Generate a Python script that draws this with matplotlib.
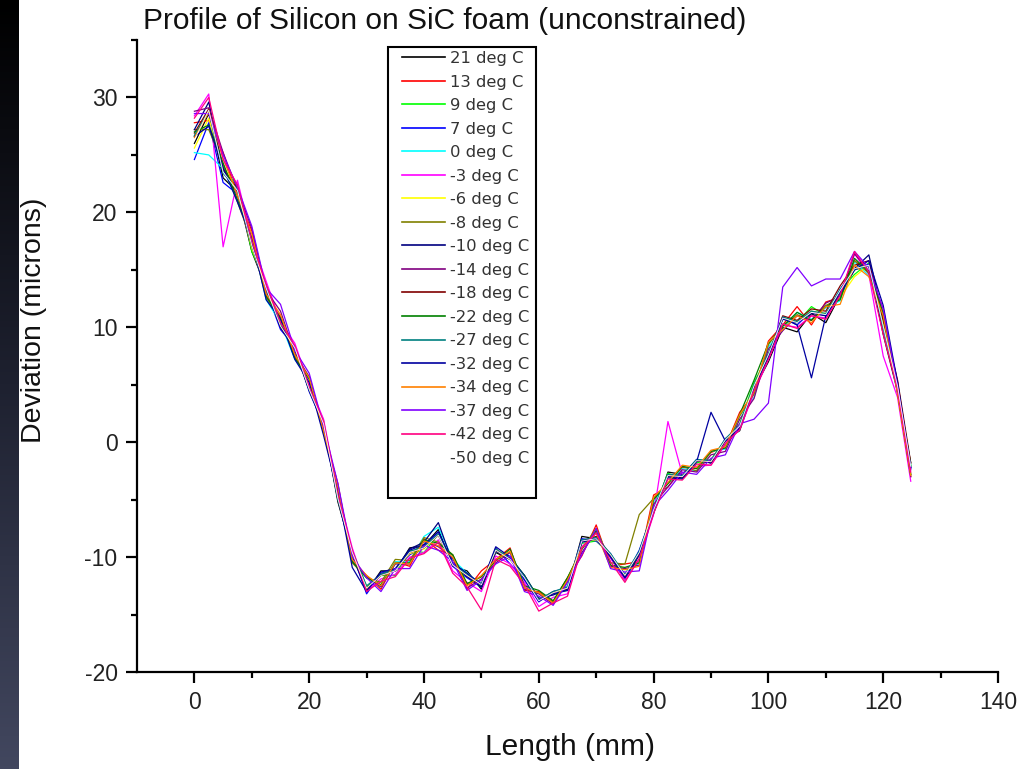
import matplotlib

matplotlib.use("Agg")
import matplotlib.pyplot as plt
import numpy as np
from matplotlib import font_manager
from matplotlib.lines import Line2D
from matplotlib.patches import Rectangle

# sample positions along the scan (mm)
LENGTH = [0, 2.5, 5, 7.5, 10, 12.5, 15, 17.5, 20, 22.5,
          25, 27.5, 30, 32.5, 35, 37.5, 40, 42.5, 45, 47.5,
          50, 52.5, 55, 57.5, 60, 62.5, 65, 67.5, 70, 72.5,
          75, 77.5, 80, 82.5, 85, 87.5, 90, 92.5, 95, 97.5,
          100, 102.5, 105, 107.5, 110, 112.5, 115, 117.5, 120, 122.5, 124.8]

# deviation (microns), one list per temperature
T21 = [26.0, 28.6, 23.0, 21.8, 16.6, 13.4, 10.0, 8.2, 4.6, 1.6,
       -5.2, -9.6, -13.0, -11.2, -11.2, -9.2, -9.0, -7.6, -10.8, -11.2,
       -12.8, -9.6, -10.2, -11.6, -13.8, -13.0, -12.8, -8.2, -8.4, -10.0,
       -12.0, -9.8, -6.2, -2.6, -2.8, -1.6, -1.8, 0.2, 1.0, 4.6,
       7.0, 10.0, 9.6, 11.2, 10.4, 12.8, 15.0, 15.4, 9.4, 4.4, -1.8]
T13 = [27.8, 28.0, 25.2, 21.4, 18.4, 12.8, 10.9, 7.4, 5.6, 0.8,
       -3.6, -10.4, -11.6, -12.8, -10.4, -10.8, -8.4, -9.4, -9.8, -12.8,
       -11.2, -10.2, -9.2, -12.9, -13.0, -13.9, -11.8, -9.9, -7.2, -10.8,
       -10.6, -10.4, -4.6, -3.9, -2.2, -2.3, -0.9, -0.4, 2.6, 4.2,
       8.8, 10.2, 11.8, 10.2, 12.2, 12.6, 15.8, 14.8, 11.6, 4.6, -3.0]
T9 = [26.6, 28.8, 23.6, 22.4, 16.6, 13.8, 10.0, 8.2, 4.8, 1.9,
      -5.0, -9.4, -12.6, -11.6, -11.6, -9.4, -9.6, -8.0, -10.6, -11.4,
      -12.6, -9.4, -10.0, -11.6, -13.6, -13.1, -12.9, -8.8, -8.6, -9.8,
      -11.8, -9.7, -6.0, -2.7, -3.2, -1.8, -1.5, 0.2, 1.6, 5.2,
      7.6, 10.8, 10.4, 11.8, 11.0, 13.2, 14.6, 15.6, 10.2, 5.0, -2.0]
T7 = [24.6, 27.8, 22.6, 21.6, 17.0, 13.2, 9.8, 8.3, 4.4, 1.5,
      -4.9, -9.7, -13.2, -11.4, -11.1, -9.8, -9.1, -7.8, -10.8, -11.8,
      -12.6, -9.2, -10.6, -12.0, -13.9, -13.0, -12.7, -8.4, -8.6, -9.7,
      -11.8, -9.4, -5.9, -2.9, -2.9, -1.5, -1.8, 0.3, 1.2, 4.9,
      7.6, 10.9, 10.2, 11.4, 11.0, 13.3, 15.1, 15.5, 10.0, 4.8, -2.2]
T0 = [25.2, 25.0, 23.8, 21.0, 17.8, 12.4, 10.4, 7.2, 5.5, 0.9,
      -3.8, -10.2, -11.8, -12.6, -10.4, -10.4, -8.2, -7.4, -10.2, -11.4,
      -12.4, -9.5, -9.9, -11.8, -13.7, -13.2, -12.5, -8.7, -8.3, -9.9,
      -11.5, -10.5, -5.2, -3.6, -2.3, -2.5, -0.8, -0.6, 2.3, 3.9,
      8.3, 9.8, 11.3, 10.7, 11.7, 12.3, 15.7, 14.5, 10.8, 4.2, -2.0]
TM3 = [28.4, 30.3, 17.0, 22.8, 17.6, 14.0, 10.5, 8.6, 5.0, 2.0,
       -4.4, -9.2, -12.9, -11.9, -11.5, -10.0, -9.6, -8.5, -11.2, -12.2,
       -13.0, -9.9, -10.6, -12.2, -14.3, -13.5, -13.2, -9.1, -7.8, -10.1,
       -12.0, -10.2, -6.3, 1.8, -2.8, -2.1, -2.0, -0.2, 1.1, 4.3,
       7.2, 10.2, 10.0, 11.0, 10.8, 12.7, 16.4, 14.6, 7.5, 3.9, -3.4]
TM6 = [25.6, 28.2, 24.0, 22.0, 16.9, 13.5, 10.3, 8.1, 4.6, 1.6,
       -4.9, -9.7, -12.8, -11.5, -11.1, -9.7, -9.3, -8.0, -10.6, -11.5,
       -12.4, -9.3, -10.1, -11.7, -13.7, -13.1, -12.7, -8.6, -8.5, -9.8,
       -11.6, -9.7, -5.9, -2.9, -3.0, -1.6, -1.7, 0.2, 1.4, 4.9,
       7.6, 10.8, 10.5, 11.4, 11.2, 12.6, 14.4, 15.4, 10.2, 4.9, -2.1]
TM8 = [27.2, 27.2, 24.2, 20.9, 17.5, 12.6, 10.7, 7.5, 5.5, 0.9,
       -4.3, -10.5, -11.8, -12.2, -10.2, -10.3, -8.3, -8.7, -9.8, -12.4,
       -11.7, -10.3, -9.5, -12.7, -13.1, -13.9, -11.8, -9.3, -7.5, -10.5,
       -10.6, -6.3, -4.9, -3.6, -2.1, -2.5, -0.8, -0.5, 2.3, 4.2,
       8.5, 10.1, 11.1, 10.6, 11.9, 12.5, 15.8, 14.7, 11.1, 4.3, -2.8]
TM10 = [27.2, 29.6, 23.8, 21.8, 17.2, 13.3, 10.0, 8.0, 4.5, 1.5,
        -5.0, -9.9, -12.9, -11.5, -11.1, -9.3, -8.7, -7.0, -10.5, -11.7,
        -12.6, -9.5, -10.0, -11.6, -13.6, -13.3, -12.8, -8.7, -8.4, -9.9,
        -11.7, -9.6, -6.0, -3.0, -3.1, -1.6, -1.8, 0.1, 1.3, 4.8,
        7.5, 10.7, 10.4, 11.2, 11.0, 13.1, 15.1, 16.3, 10.8, 5.2, -2.3]
TM14 = [28.8, 29.1, 25.2, 22.0, 18.6, 13.2, 11.4, 7.7, 5.7, 1.2,
        -3.8, -10.3, -11.7, -12.6, -10.6, -10.6, -8.6, -9.1, -10.1, -12.7,
        -11.9, -10.5, -9.6, -12.8, -13.2, -14.1, -12.1, -9.6, -7.8, -10.8,
        -11.0, -10.7, -5.4, -3.9, -2.4, -2.6, -1.1, -0.8, 2.0, 3.8,
        8.1, 9.7, 11.0, 10.6, 12.1, 12.7, 16.4, 14.9, 11.2, 4.5, -3.0]
TM18 = [26.9, 29.0, 23.7, 22.1, 17.1, 13.6, 10.1, 8.2, 4.6, 1.6,
        -4.8, -9.6, -12.7, -11.6, -11.2, -9.6, -9.2, -8.1, -10.7, -11.6,
        -12.4, -9.4, -10.2, -11.8, -13.8, -13.1, -12.7, -8.6, -8.2, -9.8,
        -11.6, -9.6, -5.9, -2.9, -3.0, -1.6, -1.7, 0.2, 1.4, 4.9,
        7.6, 11.0, 10.6, 11.6, 11.4, 13.6, 15.4, 15.8, 10.6, 5.4, -1.8]
TM22 = [27.0, 27.6, 24.3, 21.1, 17.8, 12.7, 10.8, 7.3, 5.5, 0.9,
        -4.2, -10.4, -11.8, -12.4, -10.5, -10.5, -8.5, -8.8, -9.8, -12.3,
        -11.7, -10.3, -9.3, -12.5, -12.9, -13.8, -11.8, -9.3, -7.7, -10.7,
        -10.9, -10.5, -5.0, -3.6, -2.1, -2.3, -0.8, -0.5, 2.4, 5.4,
        8.6, 10.1, 11.3, 10.6, 11.8, 12.4, 16.0, 14.8, 11.2, 4.3, -2.8]
TM27 = [26.7, 28.8, 23.4, 22.0, 17.2, 13.4, 10.2, 8.3, 4.6, 1.6,
        -4.9, -9.5, -12.5, -11.5, -11.1, -9.5, -9.1, -8.0, -10.6, -11.5,
        -12.3, -9.3, -10.1, -11.7, -13.7, -13.0, -12.6, -8.5, -8.3, -9.7,
        -11.5, -9.5, -5.8, -2.8, -2.9, -1.5, -1.6, 0.3, 1.5, 5.0,
        7.7, 10.9, 10.5, 11.4, 11.2, 13.3, 15.0, 15.4, 10.0, 4.9, -2.1]
TM32 = [26.6, 27.5, 23.9, 20.9, 17.7, 12.4, 10.7, 7.2, 5.2, 0.6,
        -4.4, -10.9, -13.0, -11.3, -11.0, -9.4, -8.9, -7.8, -10.5, -11.4,
        -12.4, -9.1, -10.0, -11.9, -13.8, -13.2, -12.9, -8.6, -8.4, -10.0,
        -11.8, -9.8, -6.1, -3.1, -3.2, -1.7, 2.6, 0.1, 1.2, 4.7,
        7.4, 10.8, 10.2, 5.6, 11.0, 12.9, 15.0, 15.8, 11.9, 5.2, -2.2]
TM34 = [26.5, 28.7, 24.7, 21.5, 18.1, 12.9, 11.1, 7.6, 5.6, 1.0,
        -3.9, -10.2, -11.6, -12.5, -10.5, -10.6, -8.6, -9.0, -10.0, -12.5,
        -11.6, -10.2, -9.5, -12.7, -13.1, -14.0, -12.0, -9.2, -7.9, -10.9,
        -11.1, -10.8, -4.8, -3.5, -2.0, -2.2, -0.7, -0.4, 2.4, 4.4,
        8.7, 9.8, 11.0, 10.4, 11.8, 12.0, 15.4, 14.4, 11.0, 4.2, -2.9]
TM37 = [28.6, 28.6, 25.0, 22.2, 18.8, 13.4, 12.0, 8.0, 6.0, 1.4,
        -3.6, -9.9, -11.8, -13.0, -11.0, -11.0, -9.0, -9.4, -10.4, -12.9,
        -12.0, -10.6, -9.9, -13.0, -13.4, -14.2, -12.2, -9.8, -7.5, -11.0,
        -11.3, -11.2, -5.6, -4.2, -2.6, -2.8, -1.4, -1.1, 1.6, 2.0,
        3.4, 13.5, 15.2, 13.6, 14.2, 14.2, 16.6, 15.2, 11.6, 4.8, -2.4]
TM42 = [28.2, 30.0, 24.6, 22.4, 17.5, 13.7, 10.4, 8.4, 4.8, 1.8,
        -4.6, -9.4, -13.0, -12.1, -11.7, -10.1, -9.7, -8.7, -11.4, -12.6,
        -14.6, -10.2, -10.8, -12.4, -14.7, -14.0, -13.4, -9.2, -7.9, -10.4,
        -12.2, -10.1, -6.2, -3.2, -3.3, -1.9, -2.0, -0.1, 1.1, 4.5,
        7.2, 10.3, 9.9, 11.0, 10.7, 12.8, 16.6, 14.8, 9.4, 4.6, -2.6]
TM50 = [26.3, 28.9, 23.5, 21.9, 17.1, 13.4, 10.1, 8.2, 4.6, 1.6,
        -4.9, -9.6, -12.7, -11.6, -11.2, -9.6, -9.2, -8.1, -10.7, -11.6,
        -12.4, -9.4, -10.2, -11.8, -13.8, -13.1, -12.7, -8.6, -8.4, -9.8,
        -11.6, -9.6, -5.9, -2.9, -3.0, -1.6, -1.7, 0.2, 1.4, 4.9,
        7.6, 10.8, 10.4, 11.3, 11.1, 13.2, 15.1, 15.4, 10.1, 4.9, -2.1]

LABELS = ["21 deg C", "13 deg C", "9 deg C", "7 deg C", "0 deg C", "-3 deg C",
          "-6 deg C", "-8 deg C", "-10 deg C", "-14 deg C", "-18 deg C", "-22 deg C",
          "-27 deg C", "-32 deg C", "-34 deg C", "-37 deg C", "-42 deg C", "-50 deg C"]
SERIES = [T21, T13, T9, T7, T0, TM3, TM6, TM8, TM10, TM14, TM18, TM22,
          TM27, TM32, TM34, TM37, TM42, TM50]

# Origin default colour cycle (last one is white, so -50 is invisible)
COLORS = ["#000000", "#FF0000", "#00FF00", "#0000FF", "#00FFFF", "#FF00FF",
          "#FFFF00", "#808000", "#000080", "#800080", "#800000", "#008000",
          "#008080", "#0000A0", "#FF8000", "#8000FF", "#FF0080", "#FFFFFF"]

names = {f.name for f in font_manager.fontManager.ttflist}
SANS = "Liberation Sans" if "Liberation Sans" in names else "DejaVu Sans"

plt.rcParams["axes.unicode_minus"] = False

W, H = 1018, 769
fig = plt.figure(figsize=(W / 100, H / 100), dpi=100, facecolor="white")

# dark slide background strip on the left edge
bg = fig.add_axes([0, 0, 19 / W, 1])
grad = np.linspace(0, 1, 256).reshape(-1, 1)
bg.imshow(grad, aspect="auto", cmap=matplotlib.colors.LinearSegmentedColormap.from_list(
    "slide", ["#000000", "#1e2130", "#42475f"]), extent=[0, 1, 0, 1], origin="upper")
bg.set_axis_off()

ax = fig.add_axes([137 / W, 1 - 672 / H, (998 - 137) / W, (672 - 40) / H])
x = np.array(LENGTH)
for ys, c in zip(SERIES, COLORS):
    ax.plot(x, ys, color=c, lw=0.9 if c != "#FFFFFF" else 0.6)

ax.set_xlim(-10, 140)
ax.set_ylim(-20, 35)
ax.set_xticks([0, 20, 40, 60, 80, 100, 120, 140])
ax.set_xticks([10, 30, 50, 70, 90, 110, 130], minor=True)
ax.set_yticks([-20, -10, 0, 10, 20, 30])
ax.set_yticks([-15, -5, 5, 15, 25, 35], minor=True)
for side in ("top", "right"):
    ax.spines[side].set_visible(False)
for side in ("left", "bottom"):
    ax.spines[side].set_linewidth(1.6)
ax.tick_params(which="major", direction="out", length=8, width=1.6, pad=6)
ax.tick_params(which="minor", direction="out", length=4, width=1.6)
for lab in ax.get_yticklabels() + ax.get_xticklabels():
    lab.set_fontfamily(SANS)
    lab.set_fontsize(16.5)
    lab.set_color("#222222")

# legend: frame drawn separately so its padding matches the original box
handles = [Line2D([], [], color=c, lw=1.2) for c in COLORS]
leg = ax.legend(handles, LABELS, loc="upper left", bbox_to_anchor=(265 / 861, 1 - 11 / 632),
                frameon=False, handlelength=2.6, handletextpad=0.3, labelspacing=0.52,
                borderaxespad=0, borderpad=0,
                prop={"family": "DejaVu Sans", "size": 11.8})
for t in leg.get_texts():
    t.set_color("#333333")
fig.patches.append(Rectangle((388 / W, 1 - 498 / H), (536 - 388) / W, (498 - 47) / H,
                             transform=fig.transFigure, fill=False, ec="#000000", lw=1.5,
                             zorder=5))

fig.text(143 / W, 1 - 21 / H, "Profile of Silicon on SiC foam (unconstrained)",
         family=SANS, fontsize=21.5, va="center", ha="left", color="#111111")
fig.text(34 / W, 1 - 320 / H, "Deviation (microns)", family=SANS, fontsize=20.5,
         rotation=90, va="center", ha="center", color="#111111")
fig.text(570 / W, 1 - 747 / H, "Length (mm)", family=SANS, fontsize=21.5,
         va="center", ha="center", color="#111111")

fig.savefig("out.png", dpi=100, facecolor="white")
